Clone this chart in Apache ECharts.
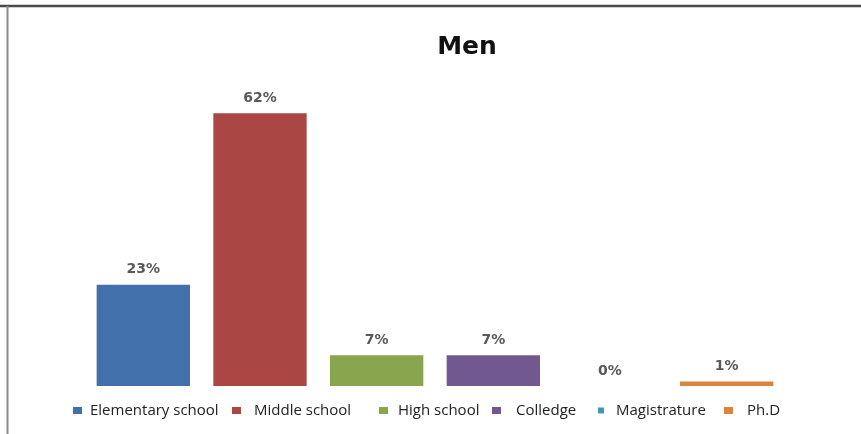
<!DOCTYPE html>
<html>
<head>
<meta charset="utf-8">
<script src="https://cdn.jsdelivr.net/npm/echarts@6/dist/echarts.min.js"></script>
<style>
  html, body { margin: 0; padding: 0; background: #ffffff; }
  #chart { width: 861px; height: 434px; }
</style>
</head>
<body>
<div id="chart"></div>
<script>
// Education level shares for men (percent)
const categories = ['Elementary school', 'Middle school', 'High school', 'Colledge', 'Magistrature', 'Ph.D'];
const values = [23, 62, 7, 7, 0, 1];
const colors = ['#4170AA', '#AA4644', '#89A54E', '#71588F', '#4198AF', '#DB843D'];
const chartTitle = 'Men';

// Legend layout along the bottom row: icon left edge and icon-to-text gap
const legendLefts = [73, 232, 379, 492, 598, 724];
const legendGaps = [8, 13, 10, 15, 12, 14];

const chart = echarts.init(document.getElementById('chart'));

// One stacked series per category so every level gets its own legend entry
const series = categories.map((name, i) => ({
  name: name,
  type: 'bar',
  stack: 'edu',
  barWidth: '80%',
  itemStyle: { color: colors[i] },
  label: {
    show: true,
    position: 'top',
    distance: 8,
    formatter: p => p.value + '%',
    fontFamily: 'DejaVu Sans',
    fontWeight: 'bold',
    fontSize: 14,
    color: '#595959'
  },
  data: categories.map((c, j) => (j === i ? values[i] : null))
}));

const legends = categories.map((name, i) => ({
  data: [name],
  left: legendLefts[i],
  top: 403,
  padding: 0,
  icon: 'rect',
  itemWidth: i === 4 ? 6 : 9,
  itemHeight: i === 4 ? 6 : 7,
  selectedMode: false,
  textStyle: {
    fontFamily: 'Open Sans',
    fontSize: 15,
    color: '#222',
    padding: [0, 0, 0, legendGaps[i] - 5]
  }
}));

chart.setOption({
  animation: false,
  backgroundColor: '#ffffff',
  title: {
    text: chartTitle,
    left: 462,
    top: 30,
    textAlign: 'center',
    textStyle: { fontFamily: 'DejaVu Sans', fontWeight: 'bold', fontSize: 25, color: '#111' }
  },
  legend: legends,
  grid: { left: 85, right: 76, top: 78, bottom: 48 },
  xAxis: {
    type: 'category',
    data: categories,
    show: false
  },
  yAxis: {
    type: 'value',
    min: 0,
    max: 70,
    show: false
  },
  graphic: [
    { type: 'line', shape: { x1: 0, y1: 6, x2: 861, y2: 6 }, style: { stroke: '#4a4a4a', lineWidth: 2.5 } },
    { type: 'line', shape: { x1: 7.5, y1: 6, x2: 7.5, y2: 434 }, style: { stroke: '#8a8a8a', lineWidth: 2 } }
  ],
  series: series
});
</script>
</body>
</html>
